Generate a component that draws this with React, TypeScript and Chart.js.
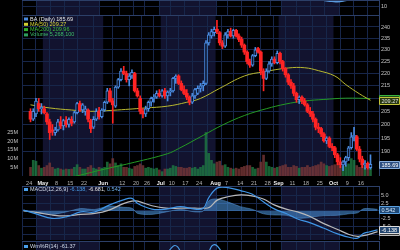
import React, { useEffect, useRef } from "react";
import { Chart, registerables } from "chart.js";
Chart.register(...registerables);

// ---------- DATA (BA daily, Apr 24 – Oct 19) ----------
const opens = [205,202,204,208,206, 206,204,201,198,197, 198,201,199.5,201.5,200, 202,201,204.5,208,205.5, 205,205.5,201.5,199,202, 205,203,205.5,208.5, 213,209,207,214.5,217.5, 221,220,217.5,219,220, 213,210,205,204, 206,208.5,210,210.5,212, 211,213,211,212.5, 213,218,219,216,213.5, 212,210.5,208.5,211,212, 214,215,216,233,236, 237.5,239,237.5,233,231.5, 236.5,238,236,238.5,236, 234.5,232,229,225,223.5, 227.5,230.5,229,221,218, 221,224,226,224.5, 228.5,225,222,219.5,216.5, 215,212,209.5,210.5,209, 207.5,205,204,202,199, 198.5,196.5,194,195,192, 191.5,189,186.5,185.5,186.5, 188,191.5,195.5,195.5,191, 187.5,185.5,186,184.5];
const highs = [206,206,210,210,208, 207,204.5,202,200,199, 202,203,202,203,202.5, 203,205,208.5,209,208, 207,206,202,203,206, 206.5,206,209,214, 214,210,215,218,222, 223,221,220,221.5,220.5, 214,211,206,207, 209,210.5,211.5,213,213.5, 213.5,214,213,214, 218.5,219.5,219.5,217,215, 213.5,211,212,214,215, 216,217,234,237.5,239, 240,243,238,234,237.5, 239,239.5,239,239,237, 235.5,232.5,229.5,226,228, 231,231,229.5,222,222, 225,227,227,229.5, 229,225.5,222.5,220,217.5, 216,212.5,211,211,210, 208,206.5,205,202.5,200.5, 199,197,195.5,195.5,193, 192,189.5,188,187,188.5, 192,197,199,196,192, 188.5,187,186.5,189];
const lows = [201,201.5,203,205,204, 204,200,194.5,196,196, 197.5,198.5,198,199,199, 199.5,200.5,204,205,204.5, 203.5,201,197,198.5,201.5, 202,202.5,205,208, 208.5,200.5,206.5,214,217, 219.5,216.5,215,218,212.5, 210.5,204,202.5,203, 205,207,208.5,210,210.5, 210.5,210,209,211, 212.5,216,215.5,213,211.5, 209.5,207.5,208,210,211.5, 212.5,213,215.5,232,235, 236,237,232,230.5,231, 235,235.5,235,235.5,233.5, 231,228,224,222.5,223, 227,228.5,219.5,213,217.5, 220.5,223,224,224, 224,221,218.5,215.5,214, 211,208.5,208,208,207, 204.5,203,201,198,197, 195.5,193.5,193,191.5,190.5, 188,185.5,184.5,183.5,185, 187,191,194,190.5,186.5, 184.5,184,184,184];
const closes = [202,205,209,206,206.5, 204.5,201,197,197.5,198, 201,199.5,201.5,200,202, 200.5,204.5,208,205.5,207.5, 206,202,198.5,202,205, 203,205.5,208.5,213, 209,207.5,214.5,217.5,221, 220,217.5,219,220.5,213, 211,205,204,206, 208.5,210,210.5,212,211, 213,211,212.5,213, 218,219,216,213.5,212, 210.5,208.5,211,213.5,214, 215,216,233,236.5,238, 239,238,233,231.5,236.5, 238,236,238.5,236,234.5, 232,229,225,223.5,227.5, 230,229,221,218,221, 224,226,224.5,228.5, 225,222,219.5,216.5,215, 212,209.5,210.5,209,207.5, 205,204,202,199,198.5, 196.5,194,195,192,191.5, 189,186.5,185.5,186.5,188, 191.5,195.5,196,191,187.5, 185.5,186,184.5,185.69];
// volume in millions
const volumes = [5,9,8.5,6,4.5, 5,6,7.5,5,4, 4.5,4,3.5,4,3.8, 4,5,6.5,5,4, 4,5,6,4.5,4, 5,4.5,5,8, 7,10,7.5,6,7, 5,5,4.5,4,5.5, 6,7,6,4.5, 5,4.5,4,4.5,3.5, 2.5,4,4,4.5, 6,5.5,5,5,4.5, 4.5,5,4.5,5,4, 5,6,25,13,9, 7,8,8.5,6,6.5, 5,4.5,4,4.5,4, 5,5.5,6,6,5, 4,4.5,8,12,8, 5.5,5,4.5,5, 5.5,6,6.5,5,5, 6,5.5,4.5,5,5, 6,5,5.5,6,6.5, 8,7,6,5.5,6, 6.5,7,6,5.5,6, 7,10,9,6,5, 6,5,4.5,5.2681];

const ma50Idx = [0,7,15,22,30,42,50,57,62,69,78,85,94,100,105,111,115,120,124];
const ma50Vals = [207.5,206.3,205.5,205.0,205.4,206.3,207.0,208.5,210.0,214.0,219.0,220.7,222.3,222.4,221.2,219.0,215.5,211.8,209.27];
const ma200Idx = [0,15,27,38,50,54,63,70,78,86,93,100,107,115,124];
const ma200Vals = [178.5,181.3,184.0,186.4,189.4,191.2,196.0,199.8,203.4,206.0,207.8,209.0,209.6,210.1,209.96];

const macdIdx = [0,5,10,15,20,25,30,35,38,40,45,50,55,60,63,65,68,72,76,80,84,88,92,96,100,105,110,114,117,119,121,124];
const macdVals = [0.3,-1.1,-2.4,-1.9,-0.3,-0.3,1.9,3.6,4.1,2.4,0.6,0.6,1.4,0.6,0.9,4.5,7.5,7.5,6.6,5.5,3.0,0.6,-0.8,-2.6,-3.7,-5.5,-7.4,-8.5,-8.8,-7.3,-6.8,-6.138];
const signalVals = [0.0,-0.5,-1.3,-1.6,-1.1,-0.8,0.3,2.4,3.2,3.2,1.7,0.9,0.9,0.9,0.9,1.1,3.6,4.7,5.2,4.9,3.9,1.9,0.6,-0.3,-1.6,-4.0,-6.0,-7.6,-8.2,-8.0,-7.6,-6.681];
const histVals = [0.3,-0.6,-1.1,-0.3,0.8,0.5,1.6,1.2,0.9,-0.8,-1.1,-0.3,0.5,-0.3,0,3.4,3.9,2.8,1.4,0.6,-0.9,-1.3,-1.4,-2.3,-2.1,-1.5,-1.4,-0.9,-0.6,0.7,0.8,0.542];

const topIdx = [98,102,104,106,108,110,112,114,116,118];
const topVals = [30,22,19,17,16.5,16,16.8,18.5,22,30];
const wmIdx = [50,52,53,54,56,64,66,67,68,70];
const wmVals = [-30,-14,-10,-13,-30,-30,-11,-8,-12,-30];

const xTickIdx = [0,5,10,15,20,27,34,39,43,48,52,57,62,68,72,77,82,87,91,96,101,106,111,116,121];
const xTickLabels = ["24","May","8","15","22","Jun","12","20","26","Jul","10","17","24","Aug","7","14","21","28","Sep","11","18","25","Oct","9","16"];
const shadedRanges = [[5,26],[48,67],[91,110]];
const priceTicks = [240,235,230,225,220,215,210,205,200,195,190];
const volTicks = [5,10,15,20,25];
const macdTicks = [5,2.5,0,-2.5,-5,-7.5];
const topTicks = [10];

const volumeText = "5,268,100";
const wmText = "-61.37";

// ---------- STYLE ----------
const FONT = "'Liberation Sans', Arial, sans-serif";
const GRID = "#17264a";
const BAND = "#12132f";
const FRAME = "#2c3f68";
const UP = "#4a8be0";
const UP_FILL = "#0c1630";
const DOWN = "#ff2424";
const N = closes.length;

const pts = (ix: number[], vs: number[]) => ix.map((x, k) => ({ x, y: vs[k] }));

const bandsPlugin = {
  id: "bands",
  beforeDraw(chart: any) {
    const { ctx, chartArea: a, scales } = chart;
    const x = scales.x;
    ctx.save();
    ctx.fillStyle = BAND;
    for (const [s, e] of shadedRanges) {
      const x0 = x.getPixelForValue(s - 0.5), x1 = x.getPixelForValue(e + 0.5);
      ctx.fillRect(x0, a.top, x1 - x0, a.bottom - a.top);
    }
    ctx.restore();
  },
  afterDraw(chart: any) {
    const { ctx, chartArea: a } = chart;
    ctx.save();
    ctx.strokeStyle = FRAME;
    ctx.lineWidth = 1;
    ctx.beginPath();
    ctx.moveTo(a.left, a.top + 0.5); ctx.lineTo(a.right, a.top + 0.5);
    ctx.moveTo(a.right + 0.5, a.top); ctx.lineTo(a.right + 0.5, a.bottom);
    ctx.stroke();
    ctx.restore();
  },
};

function xScale(show: boolean) {
  return {
    type: "linear",
    min: -0.5,
    max: N - 0.5,
    bounds: "data",
    afterBuildTicks: (s: any) => { s.ticks = xTickIdx.map((v) => ({ value: v - 0.5 })); },
    afterFit: (s: any) => { s.height = show ? 15 : 0; s.paddingLeft = 0; s.paddingRight = 0; },
    grid: { color: GRID, drawTicks: false, lineWidth: 1 },
    border: { display: false },
    ticks: {
      display: show, autoSkip: false, maxRotation: 0, minRotation: 0, padding: 4,
      callback: (_v: any, i: number) => xTickLabels[i] ?? "",
      color: (c: any) => (/^[A-Z]/.test(xTickLabels[c.index] || "") ? "#f0f0f0" : "#b4b4b4"),
      font: (c: any) => ({ family: FONT, size: 5.5, weight: /^[A-Z]/.test(xTickLabels[c.index] || "") ? "bold" : "normal" }),
    },
  };
}

function rightAxis(ticks: number[], fmt: (v: number) => string, extra: any) {
  return {
    position: "right",
    bounds: "data",
    afterBuildTicks: (s: any) => { s.ticks = ticks.map((v) => ({ value: v })); },
    afterFit: (s: any) => { s.width = 21; s.paddingTop = 0; s.paddingBottom = 0; },
    grid: { color: GRID, drawTicks: false, lineWidth: 1 },
    border: { display: false },
    ticks: { padding: 2, color: "#c4c4c4", autoSkip: false, font: { family: FONT, size: 5.5 }, callback: (v: any) => fmt(Number(v)) },
    ...extra,
  };
}

function box(ctx: any, y: number, text: string, bg: string, border: string, fg: string) {
  ctx.save();
  ctx.fillStyle = bg;
  ctx.strokeStyle = border;
  ctx.lineWidth = 1;
  const x = 379.5, w = 20, h = 7;
  ctx.beginPath();
  ctx.rect(x, Math.round(y - h / 2) + 0.5, w, h);
  ctx.fill();
  ctx.stroke();
  ctx.fillStyle = fg;
  ctx.font = `5.5px ${FONT}`;
  ctx.textBaseline = "middle";
  ctx.textAlign = "left";
  ctx.fillText(text, x + 2, Math.round(y - h / 2) + 4);
  ctx.restore();
}

function legendRows(ctx: any, x: number, rows: { y: number; parts: { t: string; c: string }[]; icon: string }[]) {
  ctx.save();
  ctx.font = `5.5px ${FONT}`;
  ctx.textBaseline = "middle";
  for (const r of rows) {
    ctx.fillStyle = r.icon;
    ctx.fillRect(x, r.y - 1.5, 4, 3);
    let cx = x + 6;
    for (const p of r.parts) {
      ctx.fillStyle = p.c;
      ctx.fillText(p.t, cx, r.y);
      cx += ctx.measureText(p.t).width;
    }
  }
  ctx.restore();
}

const baseOpts = (padding: any) => ({
  responsive: false,
  animation: false,
  devicePixelRatio: 1,
  layout: { padding },
  plugins: { legend: { display: false }, tooltip: { enabled: false } },
  events: [],
});

export default function App() {
  const r1 = useRef<HTMLCanvasElement>(null);
  const r2 = useRef<HTMLCanvasElement>(null);
  const r3 = useRef<HTMLCanvasElement>(null);
  const r4 = useRef<HTMLCanvasElement>(null);

  useEffect(() => {
    const idx = closes.map((_, i) => i);
    const up = idx.map((i) => closes[i] >= opens[i]);
    const charts: Chart[] = [];

    // top strip
    charts.push(new Chart(r1.current!, {
      type: "line",
      data: { datasets: [{ data: pts(topIdx, topVals), borderColor: "#5a9be0", backgroundColor: "rgba(80,150,225,0.7)", fill: "end", borderWidth: 1.5, pointRadius: 0, tension: 0.4 }] },
      options: {
        ...baseOpts({ left: 22, top: 0, bottom: 235, right: 0 }),
        scales: { x: xScale(false), y: rightAxis(topTicks, (v) => String(v), { min: 0, max: 18 }) },
      } as any,
      plugins: [bandsPlugin],
    }));

    // main price chart
    const mainText = {
      id: "mainText",
      afterDraw(chart: any) {
        const { ctx, scales } = chart;
        legendRows(ctx, 24, [
          { y: 19, icon: UP, parts: [{ t: `BA (Daily) ${closes[N - 1].toFixed(2)}`, c: "#e6e6e6" }] },
          { y: 24.3, icon: "#d0d034", parts: [{ t: `MA(50) ${ma50Vals[ma50Vals.length - 1].toFixed(2)}`, c: "#d8d83a" }] },
          { y: 29.6, icon: "#2fae2f", parts: [{ t: `MA(200) ${ma200Vals[ma200Vals.length - 1].toFixed(2)}`, c: "#3cbf3c" }] },
          { y: 34.9, icon: "#2e9e5e", parts: [{ t: `Volume ${volumeText}`, c: "#3fbf6a" }] },
        ]);
        const y = scales.y;
        box(ctx, y.getPixelForValue(ma200Vals[ma200Vals.length - 1]), ma200Vals[ma200Vals.length - 1].toFixed(2), "#1d4f1d", "#3cb33c", "#e0e0e0");
        box(ctx, y.getPixelForValue(ma50Vals[ma50Vals.length - 1]), ma50Vals[ma50Vals.length - 1].toFixed(2), "#2a3a12", "#c4c43a", "#e0e0e0");
        box(ctx, y.getPixelForValue(closes[N - 1]), closes[N - 1].toFixed(2), "#2b4d80", "#86acdc", "#ffffff");
      },
    };
    charts.push(new Chart(r2.current!, {
      type: "bar",
      data: {
        datasets: [
          {
            type: "bar", data: idx.map((i) => ({ x: i, y: [Math.min(opens[i], closes[i]), Math.max(opens[i], closes[i])] })),
            backgroundColor: idx.map((i) => (up[i] ? UP_FILL : DOWN)), borderColor: idx.map((i) => (up[i] ? UP : DOWN)),
            borderWidth: idx.map((i) => (up[i] ? 1 : 0)), borderSkipped: false, barThickness: 3, grouped: false, order: 1, yAxisID: "y",
          },
          {
            type: "bar", data: idx.map((i) => ({ x: i, y: [lows[i], highs[i]] })),
            backgroundColor: idx.map((i) => (up[i] ? UP : DOWN)), borderWidth: 0, borderSkipped: false, barThickness: 1, grouped: false, order: 2, yAxisID: "y",
          },
          { type: "line", data: pts(ma50Idx, ma50Vals), borderColor: "#b8b830", borderWidth: 1, pointRadius: 0, tension: 0.4, order: 3, yAxisID: "y" },
          { type: "line", data: pts(ma200Idx, ma200Vals), borderColor: "#249a24", borderWidth: 1, pointRadius: 0, tension: 0.4, order: 3, yAxisID: "y" },
          {
            type: "bar", data: idx.map((i) => ({ x: i, y: volumes[i] })),
            backgroundColor: idx.map((i) => (up[i] ? "rgba(32,130,70,0.75)" : "rgba(120,55,55,0.8)")),
            borderWidth: 0, barThickness: 2, grouped: false, order: 5, yAxisID: "yv",
          },
        ],
      },
      options: {
        ...baseOpts({ left: 0, top: 15, bottom: 59, right: 0 }),
        scales: {
          x: xScale(true),
          y: rightAxis(priceTicks, (v) => String(v), { type: "logarithmic", min: 181.66, max: 245.44 }),
          yv: {
            position: "left", type: "linear", min: 0, max: 92.5, bounds: "data",
            afterBuildTicks: (s: any) => { s.ticks = volTicks.map((v) => ({ value: v })); },
            afterFit: (s: any) => { s.width = 22; s.paddingTop = 0; s.paddingBottom = 0; },
            grid: { display: false, drawTicks: false },
            border: { display: false },
            ticks: { padding: 4, color: "#c4c4c4", font: { family: FONT, size: 5.5 }, callback: (v: any) => `${v}M` },
          },
        },
      } as any,
      plugins: [bandsPlugin, mainText],
    }));

    // MACD
    const macdText = {
      id: "macdText",
      afterDraw(chart: any) {
        const { ctx, scales } = chart;
        legendRows(ctx, 24, [
          { y: 189.5, icon: "#4a9ee8", parts: [
            { t: "MACD(12,26,9) ", c: "#cfd8e8" },
            { t: `${macdVals[macdVals.length - 1].toFixed(3)}, `, c: "#4a9ee8" },
            { t: `${signalVals[signalVals.length - 1].toFixed(3)}, `, c: "#e0e0e0" },
            { t: `${histVals[histVals.length - 1].toFixed(3)}`, c: "#6fb0e8" },
          ] },
        ]);
        const y = scales.y;
        box(ctx, y.getPixelForValue(histVals[histVals.length - 1]), histVals[histVals.length - 1].toFixed(3), "#1f4a78", "#5aa0e0", "#d8e8f8");
        box(ctx, y.getPixelForValue(signalVals[signalVals.length - 1]), signalVals[signalVals.length - 1].toFixed(3), "#3a3a3a", "#bbbbbb", "#eeeeee");
        box(ctx, y.getPixelForValue(macdVals[macdVals.length - 1]), macdVals[macdVals.length - 1].toFixed(3), "#24466e", "#dddddd", "#ffffff");
      },
    };
    charts.push(new Chart(r3.current!, {
      type: "line",
      data: {
        datasets: [
          { data: pts(macdIdx, macdVals), borderColor: "#3f95e6", borderWidth: 1.2, pointRadius: 0, tension: 0.4, order: 1 },
          { data: pts(macdIdx, signalVals), borderColor: "#b9b9b9", borderWidth: 1.2, pointRadius: 0, tension: 0.4, order: 2 },
          { data: pts(macdIdx, histVals), borderColor: "rgba(90,160,225,0.9)", borderWidth: 0.5, backgroundColor: "rgba(70,140,210,0.6)", fill: "origin", pointRadius: 0, tension: 0.3, order: 3 },
        ],
      },
      options: {
        ...baseOpts({ left: 22, top: 186, bottom: 10, right: 0 }),
        scales: { x: xScale(false), y: rightAxis(macdTicks, (v) => v.toFixed(1), { min: -9.4, max: 8.1 }) },
      } as any,
      plugins: [bandsPlugin, macdText],
    }));

    // Williams %R strip
    const wmText2 = {
      id: "wmText",
      afterDraw(chart: any) {
        legendRows(chart.ctx, 24, [{ y: 246.5, icon: "#4a9ee8", parts: [{ t: `Wm%R(14) ${wmText}`, c: "#cfd8e8" }] }]);
      },
    };
    charts.push(new Chart(r4.current!, {
      type: "line",
      data: { datasets: [{ data: pts(wmIdx, wmVals), borderColor: "#4a9ee8", borderWidth: 1.2, pointRadius: 0, tension: 0.4 }] },
      options: {
        ...baseOpts({ left: 22, top: 241, bottom: 0, right: 0 }),
        scales: {
          x: xScale(false),
          y: { ...rightAxis([], (v) => String(v), { min: -20, max: 0 }), ticks: { display: false }, grid: { display: false } },
        },
      } as any,
      plugins: [bandsPlugin, wmText2],
    }));

    return () => charts.forEach((c) => c.destroy());
  }, []);

  const cs: React.CSSProperties = { position: "absolute", left: 0, top: 0, width: 400, height: 250 };
  return (
    <div style={{ position: "fixed", left: 0, top: 0, width: 400, height: 250, background: "#000", overflow: "hidden" }}>
      <canvas ref={r1} width={400} height={250} style={cs} />
      <canvas ref={r2} width={400} height={250} style={cs} />
      <canvas ref={r3} width={400} height={250} style={cs} />
      <canvas ref={r4} width={400} height={250} style={cs} />
    </div>
  );
}
